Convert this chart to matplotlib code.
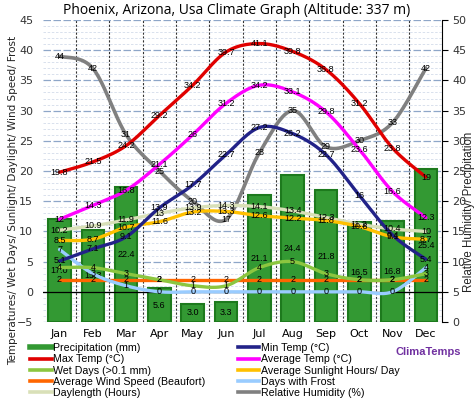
import numpy as np
import matplotlib.pyplot as plt
from matplotlib.lines import Line2D

months = ['Jan', 'Feb', 'Mar', 'Apr', 'May', 'Jun', 'Jul', 'Aug', 'Sep', 'Oct', 'Nov', 'Dec']

# right axis (mm / %)
precip = [17.0, 15.3, 22.4, 5.6, 3.0, 3.3, 21.1, 24.4, 21.8, 16.5, 16.8, 25.4]
humidity = [44, 42, 31, 25, 20, 17, 28, 35, 29, 30, 33, 42]

# left axis
max_temp = [19.8, 21.5, 24.2, 29.2, 34.2, 39.7, 41.1, 39.8, 36.8, 31.2, 23.8, 19]
avg_temp = [12, 14.3, 16.8, 21.1, 26.0, 31.2, 34.2, 33.1, 29.8, 23.6, 16.6, 12.3]
min_temp = [5.1, 7.1, 9.1, 13.9, 17.7, 22.7, 27.2, 26.2, 22.7, 16, 9.4, 5.4]
sunlight = [8.5, 8.7, 10.7, 11.6, 13.2, 13.3, 12.6, 12.2, 11.8, 10.8, 9.1, 8.7]
daylength = [10.2, 10.9, 11.9, 13.0, 13.9, 14.3, 14.1, 13.4, 12.3, 11.2, 10.4, 10.0]
wet_days = [4, 4, 3, 2, 1, 1, 4, 5, 3, 2, 2, 3]
wind = [2, 2, 2, 2, 2, 2, 2, 2, 2, 2, 2, 2]
frost = [7, 3, 1, 0, 0, 0, 0, 0, 0, 0, 0, 4]


def smooth(y, n=24):
    # catmull-rom curve through the points, like excel's smoothed lines
    y = np.asarray(y, dtype=float)
    x = np.arange(len(y), dtype=float)
    px = np.concatenate([[x[0]], x, [x[-1]]])
    py = np.concatenate([[y[0]], y, [y[-1]]])
    xs, ys = [], []
    t = np.linspace(0, 1, n)
    for i in range(1, len(px) - 2):
        for p, out in ((px, xs), (py, ys)):
            p0, p1, p2, p3 = p[i - 1], p[i], p[i + 1], p[i + 2]
            out.append(0.5 * (2 * p1 + (-p0 + p2) * t + (2 * p0 - 5 * p1 + 4 * p2 - p3) * t ** 2
                              + (-p0 + 3 * p1 - 3 * p2 + p3) * t ** 3))
    return np.concatenate(xs), np.concatenate(ys)


x = np.arange(12)
fig = plt.figure(figsize=(4.74, 4.0), dpi=100)
ax = fig.add_axes([0.0905, 0.195, 0.843, 0.755])
ax2 = ax.twinx()
ax.set_zorder(ax2.get_zorder() + 1)
ax.patch.set_visible(False)

ax.set_xlim(-0.5, 11.5)
ax.set_ylim(-5, 45)
ax2.set_ylim(0, 50)

# grid on the back axes
ax2.set_yticks(np.arange(0, 51, 5))
ax2.set_yticks(np.arange(0, 51, 1), minor=True)
ax2.grid(True, which='major', axis='y', color='#8ea6c8', ls='--', lw=0.9, dashes=(6, 2))
ax2.grid(True, which='minor', axis='y', color='#d3dcea', ls='--', lw=0.6, dashes=(3, 2))
for b in np.arange(0.5, 11.5, 1):
    ax2.axvline(b, color='#333333', ls=(0, (2, 1.5)), lw=0.8, zorder=0.5)

bars = ax2.bar(x, precip, width=0.68, color='#339933', edgecolor='#1d7a1d', lw=1.5, zorder=2)
for xi, v in zip(x, precip):
    ax2.text(xi, v / 2, f'{v:.1f}', ha='center', va='center', fontsize=6.5,
             family='Liberation Sans', zorder=3)

hx, hy = smooth(humidity)
ax2.plot(hx, hy, color='#808080', lw=2.6, zorder=4, solid_capstyle='round')
for xi, v in zip(x, humidity):
    ax2.text(xi, v, f'{v:g}', ha='center', va='center', fontsize=6.5,
             family='Liberation Sans', zorder=5)

ax.axhline(0, color='black', lw=0.9, zorder=1)

series = [
    (wind, '#ff6600'),
    (frost, '#99ccff'),
    (wet_days, '#8cc63f'),
    (daylength, '#d9e0b8'),
    (sunlight, '#ffc000'),
    (min_temp, '#222288'),
    (avg_temp, '#ff00ff'),
    (max_temp, '#e00000'),
]
for vals, col in series:
    sx, sy = smooth(vals)
    ax.plot(sx, sy, color=col, lw=2.4, solid_capstyle='round', zorder=3)
    for xi, v in zip(x, vals):
        ax.text(xi, v, f'{v:g}', ha='center', va='center', fontsize=6.5,
                family='Liberation Sans', zorder=4)

ax.set_xticks(x, months)
ax.tick_params(axis='x', length=0, pad=5, labelsize=8)
ax.set_yticks(np.arange(-5, 46, 5))
ax.tick_params(axis='y', length=0, pad=7, labelsize=8, labelcolor='#333333')
ax2.tick_params(axis='y', which='major', direction='out', length=4, labelsize=8,
                labelcolor='#333333', pad=3)
ax2.tick_params(axis='y', which='minor', length=0)
for s in ['top', 'bottom', 'left']:
    ax.spines[s].set_visible(False)
    ax2.spines[s].set_visible(False)
ax.spines['right'].set_visible(False)
ax2.spines['right'].set_color('black')

fig.text(0.5, 0.975, 'Phoenix, Arizona, Usa Climate Graph (Altitude: 337 m)',
         ha='center', va='center', fontsize=10, family='Open Sans')
fig.text(0.028, 0.5, 'Temperatures/ Wet Days/ Sunlight/ Daylight/ Wind Speed/ Frost',
         rotation=90, ha='center', va='center', fontsize=7.5, color='#222222')
fig.text(0.99, 0.47, 'Relative Humidity/ Precipitation', rotation=90,
         ha='center', va='center', fontsize=8.3, family='Liberation Sans', color='#222222')


def h(col, lw=2.6):
    return Line2D([], [], color=col, lw=lw)


handles = [Line2D([], [], color='#339933', lw=4), h('#e00000'), h('#8cc63f'),
           h('#ff6600'), h('#d9e0b8'), h('#222288'), h('#ff00ff'), h('#ffc000'),
           h('#99ccff'), h('#808080')]
labels = ['Precipitation (mm)', 'Max Temp (°C)', 'Wet Days (>0.1 mm)',
          'Average Wind Speed (Beaufort)', 'Daylength (Hours)', 'Min Temp (°C)',
          'Average Temp (°C)', 'Average Sunlight Hours/ Day', 'Days with Frost',
          'Relative Humidity (%)']
fig.legend(handles, labels, ncol=2, loc='upper left', bbox_to_anchor=(0.055, 0.153),
           bbox_transform=fig.transFigure, frameon=False,
           prop={'family': 'Liberation Sans', 'size': 7.7},
           handlelength=2.0, handletextpad=0.15, labelspacing=0.12, columnspacing=3.0,
           borderaxespad=0)

fig.text(0.835, 0.12, 'ClimaTemps', color='#7030a0', fontsize=8, fontweight='bold',
         family='Liberation Sans', ha='left', va='center')

fig.savefig('out.png', dpi=100)
